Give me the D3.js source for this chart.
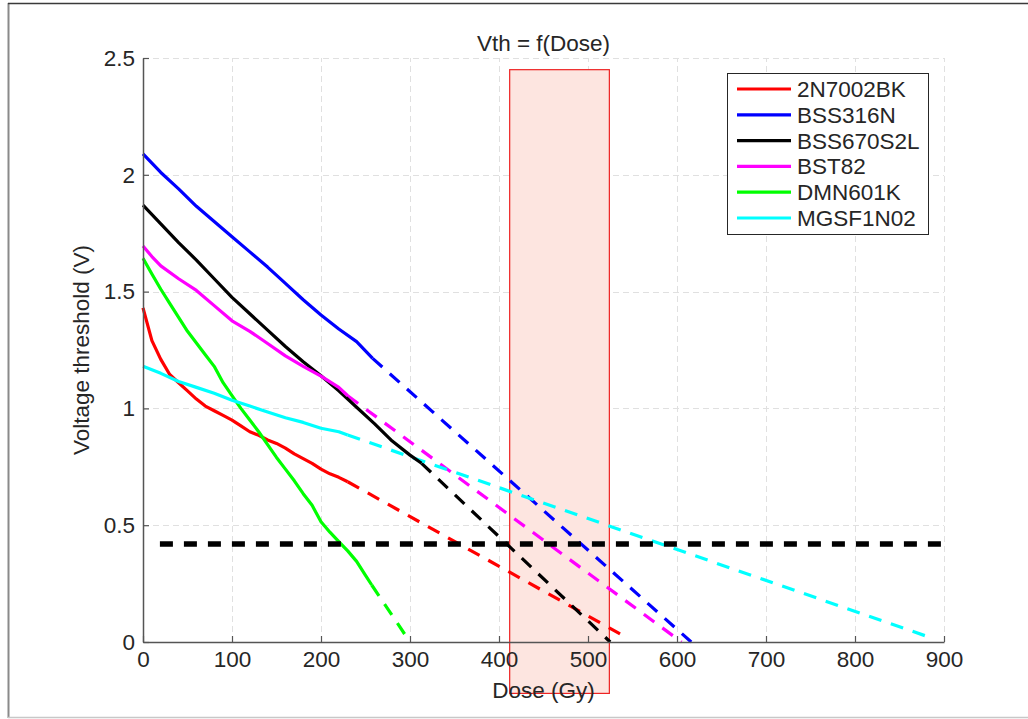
<!DOCTYPE html>
<html>
<head>
<meta charset="utf-8">
<script src="https://cdn.jsdelivr.net/npm/d3@7"></script>
<style>
  body { margin: 0; background: #fff; }
  text { font-family: Arial, "Liberation Sans", Helvetica, sans-serif; fill: #262626; }
</style>
</head>
<body>
<script>
// measured parts (solid), one dose array and one value array per device
var names = ["2N7002BK", "BSS316N", "BSS670S2L", "BST82", "DMN601K", "MGSF1N02"];
var colors = ["#ff0000", "#0000ff", "#000000", "#ff00ff", "#00ff00", "#00ffff"];

var dose2N7002BK = [0, 10, 20, 30, 40, 50, 60, 70, 80, 90, 100, 110, 120, 130, 140, 150, 160, 170, 180, 190, 200, 210, 220, 230];
var vth2N7002BK  = [1.43, 1.29, 1.21, 1.145, 1.11, 1.075, 1.04, 1.01, 0.99, 0.97, 0.95, 0.925, 0.90, 0.885, 0.865, 0.85, 0.83, 0.805, 0.785, 0.765, 0.74, 0.72, 0.705, 0.686];

var doseBSS316N = [0, 20, 40, 60, 80, 100, 120, 140, 160, 180, 200, 220, 240, 258];
var vthBSS316N  = [2.09, 2.01, 1.94, 1.865, 1.80, 1.735, 1.67, 1.605, 1.535, 1.465, 1.40, 1.34, 1.286, 1.214];

var doseBSS670S2L = [0, 20, 40, 60, 80, 100, 120, 140, 160, 180, 200, 220, 240, 260, 280, 300, 313];
var vthBSS670S2L  = [1.87, 1.79, 1.71, 1.635, 1.555, 1.475, 1.405, 1.335, 1.265, 1.20, 1.14, 1.075, 1.005, 0.935, 0.86, 0.80, 0.765];

var doseBST82 = [0, 10, 20, 40, 60, 80, 100, 120, 140, 160, 180, 200, 220, 230];
var vthBST82  = [1.695, 1.65, 1.61, 1.555, 1.505, 1.44, 1.375, 1.33, 1.278, 1.225, 1.18, 1.138, 1.09, 1.054];

var doseDMN601K = [0, 10, 20, 30, 40, 50, 60, 70, 80, 90, 100, 110, 120, 130, 140, 150, 160, 170, 180, 190, 200, 210, 220, 230, 240, 250, 257];
var vthDMN601K  = [1.643, 1.575, 1.51, 1.45, 1.39, 1.33, 1.28, 1.23, 1.18, 1.11, 1.055, 1.00, 0.95, 0.90, 0.845, 0.79, 0.74, 0.69, 0.635, 0.585, 0.515, 0.47, 0.43, 0.39, 0.345, 0.285, 0.244];

var doseMGSF1N02 = [0, 20, 40, 60, 80, 100, 120, 140, 160, 180, 200, 220, 230];
var vthMGSF1N02  = [1.18, 1.15, 1.115, 1.09, 1.065, 1.035, 1.01, 0.985, 0.96, 0.94, 0.915, 0.90, 0.886];

// extrapolation end points (dashed)
var extrapDose = [536, 616, 525, 605, 300, 884];
var extrapVth  = [0.035, 0, 0, 0, 0, 0.02];

// threshold line and dose window
var thresholdVth = 0.42;
var thresholdDose = [19, 900];
var windowDose = [412, 524];
var windowVth = [-0.22, 2.45];

var xTicks = [0, 100, 200, 300, 400, 500, 600, 700, 800, 900];
var yTicks = [0, 0.5, 1, 1.5, 2, 2.5];

var doses = [dose2N7002BK, doseBSS316N, doseBSS670S2L, doseBST82, doseDMN601K, doseMGSF1N02];
var vths = [vth2N7002BK, vthBSS316N, vthBSS670S2L, vthBST82, vthDMN601K, vthMGSF1N02];

var W = 1028, H = 719;
var margin = {top: 58, right: 84, bottom: 77, left: 143};
var fs = 22.5;

var svg = d3.select("body").append("svg")
    .attr("width", W)
    .attr("height", H);

// figure border
svg.append("line").attr("x1", 8.5).attr("y1", 3).attr("x2", 8.5).attr("y2", 718)
    .attr("stroke", "#8a8a8a").attr("stroke-width", 2);
svg.append("line").attr("x1", 8).attr("y1", 3.5).attr("x2", W).attr("y2", 3.5)
    .attr("stroke", "#3a3a3a").attr("stroke-width", 1.5);
svg.append("line").attr("x1", 8).attr("y1", 717.5).attr("x2", W).attr("y2", 717.5)
    .attr("stroke", "#c8c8c8").attr("stroke-width", 1.5);

var x = d3.scaleLinear().domain([0, 900]).range([margin.left, W - margin.right]);
var y = d3.scaleLinear().domain([0, 2.5]).range([H - margin.bottom, margin.top]);

// grid
var grid = svg.append("g").attr("stroke", "#e0e0e0").attr("stroke-width", 1).attr("stroke-dasharray", "6,4");
grid.selectAll("line.gx").data(xTicks.slice(1)).enter().append("line")
    .attr("x1", d => Math.round(x(d)) + 0.5).attr("x2", d => Math.round(x(d)) + 0.5)
    .attr("y1", y(0)).attr("y2", y(2.5));
grid.selectAll("line.gy").data(yTicks.slice(1)).enter().append("line")
    .attr("y1", d => Math.round(y(d)) + 0.5).attr("y2", d => Math.round(y(d)) + 0.5)
    .attr("x1", x(0)).attr("x2", x(900));

// dose window
svg.append("rect")
    .attr("x", x(windowDose[0])).attr("y", y(windowVth[1]))
    .attr("width", x(windowDose[1]) - x(windowDose[0]))
    .attr("height", y(windowVth[0]) - y(windowVth[1]))
    .attr("fill", "rgb(253,229,224)")
    .attr("stroke", "#ee2222").attr("stroke-width", 1.2);

var line = d3.line().x(d => x(d[0])).y(d => y(d[1]));

// dashed extrapolations
names.forEach(function(n, i) {
  var ds = doses[i], vs = vths[i];
  var last = [ds[ds.length - 1], vs[vs.length - 1]];
  svg.append("path")
      .attr("d", line([last, [extrapDose[i], extrapVth[i]]]))
      .attr("fill", "none").attr("stroke", colors[i])
      .attr("stroke-width", 3.2).attr("stroke-dasharray", "13,10");
});

// measured curves
names.forEach(function(n, i) {
  var pts = doses[i].map((d, k) => [d, vths[i][k]]);
  svg.append("path")
      .attr("d", line(pts))
      .attr("fill", "none").attr("stroke", colors[i])
      .attr("stroke-width", 3.2).attr("stroke-linejoin", "round");
});

// threshold
svg.append("line")
    .attr("x1", x(thresholdDose[0])).attr("x2", x(thresholdDose[1]))
    .attr("y1", y(thresholdVth)).attr("y2", y(thresholdVth))
    .attr("stroke", "#000").attr("stroke-width", 5.5).attr("stroke-dasharray", "13,11");

// axes
var xAxis = svg.append("g")
    .attr("transform", "translate(0," + y(0) + ")")
    .call(d3.axisBottom(x).tickValues(xTicks).tickSizeInner(-6).tickSizeOuter(0).tickPadding(9));
var yAxis = svg.append("g")
    .attr("transform", "translate(" + x(0) + ",0)")
    .call(d3.axisLeft(y).tickValues(yTicks).tickSizeInner(-6).tickSizeOuter(0).tickPadding(8)
          .tickFormat(d3.format("")));
[xAxis, yAxis].forEach(function(a) {
  a.select(".domain").attr("stroke", "#555").attr("stroke-width", 1.5);
  a.selectAll(".tick line").attr("stroke", "#555").attr("stroke-width", 1.2);
  a.selectAll(".tick text").attr("font-size", fs).attr("font-family", "Arial, 'Liberation Sans', sans-serif").attr("fill", "#262626");
});

// labels
svg.append("text").attr("x", (x(0) + x(900)) / 2).attr("y", 51)
    .attr("text-anchor", "middle").attr("font-size", fs).text("Vth = f(Dose)");
svg.append("text").attr("x", (x(0) + x(900)) / 2).attr("y", 698)
    .attr("text-anchor", "middle").attr("font-size", fs).text("Dose (Gy)");
svg.append("text").attr("transform", "translate(89," + ((y(0) + y(2.5)) / 2) + ") rotate(-90)")
    .attr("text-anchor", "middle").attr("font-size", fs).text("Voltage threshold (V)");

// legend
var lg = svg.append("g").attr("transform", "translate(727,73)");
lg.append("rect").attr("x", 0.5).attr("y", 0.5).attr("width", 201).attr("height", 161)
    .attr("fill", "#fff").attr("stroke", "#262626").attr("stroke-width", 1);
names.forEach(function(n, i) {
  var yy = 16 + i * 25.8;
  lg.append("line").attr("x1", 10).attr("x2", 64).attr("y1", yy).attr("y2", yy)
      .attr("stroke", colors[i]).attr("stroke-width", 3.2);
  lg.append("text").attr("x", 70).attr("y", yy + 8).attr("font-size", fs).text(n);
});
</script>
</body>
</html>
